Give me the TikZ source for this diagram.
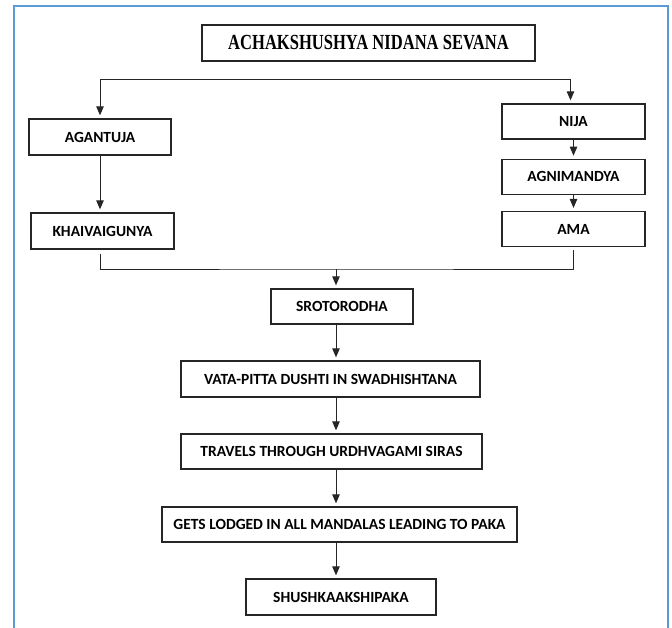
\documentclass[tikz,border=0pt]{standalone}
\usepackage{fontspec}
\setmainfont{Liberation Serif}
\newfontfamily\boxfont{Carlito}
\newfontfamily\titlefont[FakeStretch=0.77]{Liberation Serif}
\definecolor{frameblue}{RGB}{91,155,213}
\usetikzlibrary{arrows.meta,positioning}

\begin{document}
\begin{tikzpicture}[x=1pt,y=-1pt,
    every node/.style={draw=black!85,line width=1.3pt,minimum height=35pt,inner sep=0pt,font=\boxfont\bfseries\fontsize{15.5}{18}\selectfont,text centered},
    flow/.style={draw=black!85,line width=0.9pt,-{Triangle[length=9pt,width=7.5pt]},shorten >=3pt},
    link/.style={draw=black!85,line width=0.9pt}
    ]
    \useasboundingbox (0,0) rectangle (672,628);
    \draw[frameblue,line width=1.5pt] (14,660) -- (14,6) -- (668,6) -- (668,660);

    \node[minimum width=333pt,minimum height=36pt,font=\titlefont\bfseries\fontsize{21.5}{24}\selectfont] (title) at (368.5,43) {ACHAKSHUSHYA NIDANA SEVANA};
    \node[minimum width=142pt,minimum height=36pt] (agantuja) at (100,137) {AGANTUJA};
    \node[minimum width=143pt,minimum height=36pt] (khai) at (102.5,231) {KHAIVAIGUNYA};
    \node[minimum width=143pt] (nija) at (573.5,121.5) {NIJA};
    \node[minimum width=143pt,below=19pt of nija] (agni) {AGNIMANDYA};
    \node[minimum width=143pt,below=16pt of agni] (ama) {AMA};
    \node[minimum width=142pt] (sroto) at (342,306.5) {SROTORODHA};
    \node[minimum width=299pt,minimum height=36pt] (vata) at (330.5,379) {VATA-PITTA DUSHTI IN SWADHISHTANA};
    \node[minimum width=301pt] (travels) at (331.5,451.5) {TRAVELS THROUGH URDHVAGAMI SIRAS};
    \node[minimum width=355pt] (gets) at (339.5,524.5) {GETS LODGED IN ALL MANDALAS LEADING TO PAKA};
    \node[minimum width=190pt,minimum height=36pt] (shush) at (341,597) {SHUSHKAAKSHIPAKA};

    % split and join points
    \coordinate (split) at (336,79);
    \coordinate (join) at (336,269);

    \draw[flow] (split) -| (agantuja.north);
    \draw[flow] (split) -| ([xshift=-3pt]nija.north);
    \draw[flow] (agantuja.south) -- (agantuja.south |- khai.north);
    \draw[flow] (nija.south) -- (agni.north);
    \draw[flow] (agni.south) -- (ama.north);
    \draw[link] ([yshift=-4pt]agantuja.south |- khai.south) |- (join) -| ([yshift=-3pt]ama.south);
    \draw[flow] (join) -- (join |- sroto.north);
    \foreach \a/\b in {sroto/vata,vata/travels,travels/gets,gets/shush}
      \draw[flow] (\a.south -| join) -- (\b.north -| join);
  \end{tikzpicture}
\end{document}
